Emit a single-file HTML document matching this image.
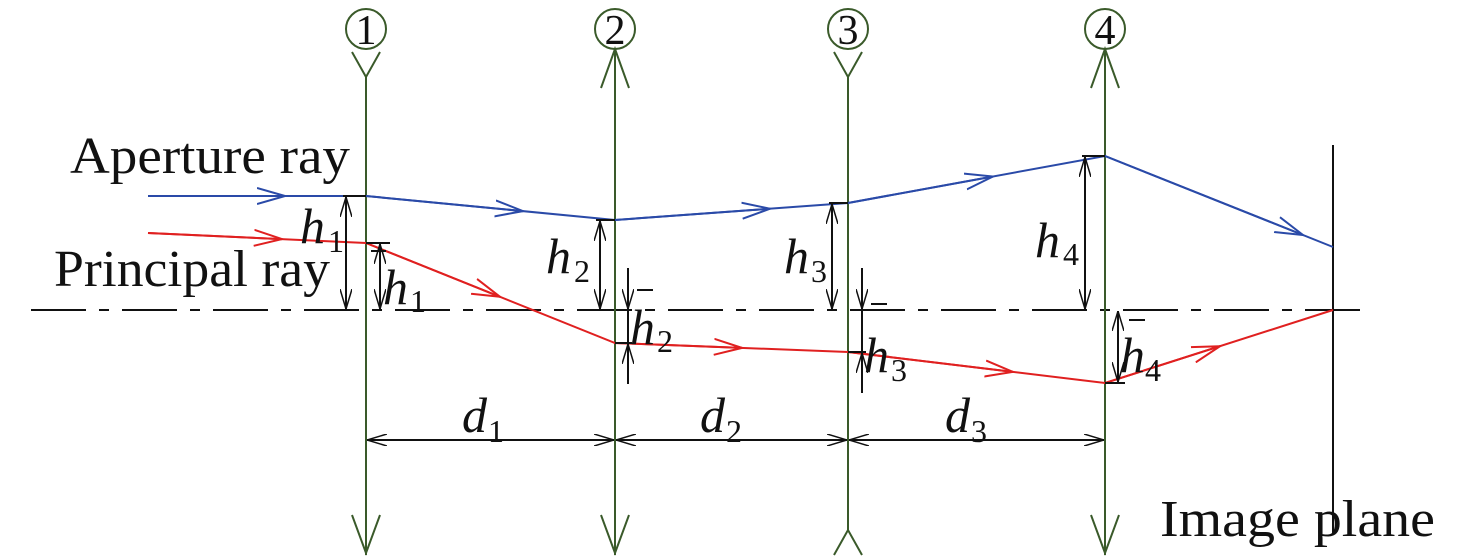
<!DOCTYPE html><html><head><style>body{margin:0;background:#fff}svg{display:block}
text{font-family:"Liberation Serif",serif;fill:#111}.i{font-style:italic}</style></head><body>
<svg width="1476" height="557" viewBox="0 0 1476 557">
<defs>
<marker id="a" viewBox="0 0 20 12" refX="20" refY="6" markerWidth="20" markerHeight="12" markerUnits="userSpaceOnUse" orient="auto-start-reverse"><path d="M0 0L20 6L0 12" fill="none" stroke="#111" stroke-width="1.5"/></marker>
<marker id="b" viewBox="0 0 30 18" refX="28" refY="9" markerWidth="30" markerHeight="18" markerUnits="userSpaceOnUse" orient="auto"><path d="M0 1L28 9L0 17" fill="none" stroke="#2a4aa8" stroke-width="2"/></marker>
<marker id="r" viewBox="0 0 30 18" refX="28" refY="9" markerWidth="30" markerHeight="18" markerUnits="userSpaceOnUse" orient="auto"><path d="M0 1L28 9L0 17" fill="none" stroke="#e02020" stroke-width="2"/></marker>
</defs>
<line x1="31" y1="310" x2="1365" y2="310" stroke="#111" stroke-width="2" stroke-dasharray="55,13,10,13"/>
<g stroke="#3a5a2a" stroke-width="2" fill="none">
<line x1="366" y1="77" x2="366" y2="555"/><path d="M352 52L366 77L380 52"/><path d="M352 515L366 553L380 515"/>
<line x1="615" y1="49" x2="615" y2="555"/><path d="M601 88L615 49L629 88"/><path d="M601 515L615 553L629 515"/>
<line x1="848" y1="77" x2="848" y2="530"/><path d="M834 52L848 77L862 52"/><path d="M834 555L848 530L862 555"/>
<line x1="1105" y1="49" x2="1105" y2="555"/><path d="M1091 88L1105 49L1119 88"/><path d="M1091 515L1105 553L1119 515"/>
<circle cx="366" cy="29" r="20"/><circle cx="615" cy="29" r="20"/><circle cx="848" cy="29" r="20"/><circle cx="1105" cy="29" r="20"/>
</g>
<g font-size="42" text-anchor="middle"><text x="366" y="44">1</text><text x="615" y="44">2</text><text x="848" y="44">3</text><text x="1105" y="44">4</text></g>
<line x1="1333" y1="145" x2="1333" y2="535" stroke="#111" stroke-width="2"/>
<polyline points="148,196 366,196 615,220 848,203 1105,156 1333,247" fill="none" stroke="#2a4aa8" stroke-width="2"/>
<polyline points="148,233 366,243 615,343 848,352 1105,383 1333,310" fill="none" stroke="#e02020" stroke-width="2"/>
<g fill="none" stroke-width="2" stroke="#2a4aa8">
<line x1="148" y1="196" x2="285" y2="196" marker-end="url(#b)"/>
<line x1="366" y1="196" x2="523" y2="211.1" marker-end="url(#b)"/>
<line x1="615" y1="220" x2="770" y2="208.7" marker-end="url(#b)"/>
<line x1="848" y1="203" x2="993" y2="176.5" marker-end="url(#b)"/>
<line x1="1105" y1="156" x2="1303" y2="235" marker-end="url(#b)"/>
</g>
<g fill="none" stroke-width="2" stroke="#e02020">
<line x1="148" y1="233" x2="282" y2="239.1" marker-end="url(#r)"/>
<line x1="366" y1="243" x2="500" y2="296.8" marker-end="url(#r)"/>
<line x1="615" y1="343" x2="742" y2="347.9" marker-end="url(#r)"/>
<line x1="848" y1="352" x2="1013" y2="371.9" marker-end="url(#r)"/>
<line x1="1105" y1="383" x2="1220" y2="346.2" marker-end="url(#r)"/>
</g>
<g stroke="#111" stroke-width="2" fill="none">
<line x1="343" y1="196" x2="366" y2="196"/><line x1="346" y1="197" x2="346" y2="309" marker-start="url(#a)" marker-end="url(#a)"/>
<line x1="366" y1="243" x2="390" y2="243"/><line x1="380" y1="244" x2="380" y2="309" marker-start="url(#a)" marker-end="url(#a)"/>
<line x1="596" y1="220" x2="615" y2="220"/><line x1="600" y1="221" x2="600" y2="309" marker-start="url(#a)" marker-end="url(#a)"/>
<line x1="615" y1="343" x2="632" y2="343"/><line x1="628" y1="268" x2="628" y2="309" marker-end="url(#a)"/><line x1="628" y1="384" x2="628" y2="344" marker-end="url(#a)"/><line x1="628" y1="310" x2="628" y2="343"/>
<line x1="829" y1="203" x2="848" y2="203"/><line x1="832" y1="204" x2="832" y2="309" marker-start="url(#a)" marker-end="url(#a)"/>
<line x1="848" y1="352" x2="866" y2="352"/><line x1="862" y1="268" x2="862" y2="309" marker-end="url(#a)"/><line x1="862" y1="393" x2="862" y2="353" marker-end="url(#a)"/><line x1="862" y1="310" x2="862" y2="352"/>
<line x1="1082" y1="156" x2="1105" y2="156"/><line x1="1085" y1="157" x2="1085" y2="309" marker-start="url(#a)" marker-end="url(#a)"/>
<line x1="1105" y1="383" x2="1125" y2="383"/><line x1="1118" y1="311" x2="1118" y2="382" marker-start="url(#a)" marker-end="url(#a)"/>
<line x1="367" y1="440" x2="614" y2="440" marker-start="url(#a)" marker-end="url(#a)"/>
<line x1="616" y1="440" x2="847" y2="440" marker-start="url(#a)" marker-end="url(#a)"/>
<line x1="849" y1="440" x2="1104" y2="440" marker-start="url(#a)" marker-end="url(#a)"/>
</g>
<g font-size="52">
<text x="70" y="173" textLength="280" lengthAdjust="spacingAndGlyphs">Aperture ray</text>
<text x="54" y="286" textLength="276" lengthAdjust="spacingAndGlyphs">Principal ray</text>
<text x="1160" y="536" textLength="275" lengthAdjust="spacingAndGlyphs">Image plane</text>
</g>
<g font-size="50">
<text x="300" y="243" class="i">h</text><text x="328" y="252" font-size="32">1</text>
<text x="383" y="304" class="i">h</text><text x="410" y="312" font-size="32">1</text><line x1="371" y1="251" x2="386" y2="251" stroke="#111" stroke-width="2"/>
<text x="546" y="273" class="i">h</text><text x="574" y="282" font-size="32">2</text>
<text x="630" y="344" class="i">h</text><text x="657" y="352" font-size="32">2</text><line x1="637" y1="290" x2="653" y2="290" stroke="#111" stroke-width="2"/>
<text x="784" y="273" class="i">h</text><text x="811" y="282" font-size="32">3</text>
<text x="864" y="372" class="i">h</text><text x="891" y="381" font-size="32">3</text><line x1="871" y1="304" x2="887" y2="304" stroke="#111" stroke-width="2"/>
<text x="1035" y="257" class="i">h</text><text x="1063" y="265" font-size="32">4</text>
<text x="1120" y="372" class="i">h</text><text x="1145" y="381" font-size="32">4</text><line x1="1129" y1="320" x2="1145" y2="320" stroke="#111" stroke-width="2"/>
<text x="462" y="432" class="i">d</text><text x="488" y="442" font-size="32">1</text>
<text x="700" y="432" class="i">d</text><text x="726" y="442" font-size="32">2</text>
<text x="945" y="432" class="i">d</text><text x="971" y="442" font-size="32">3</text>
</g>
</svg></body></html>
